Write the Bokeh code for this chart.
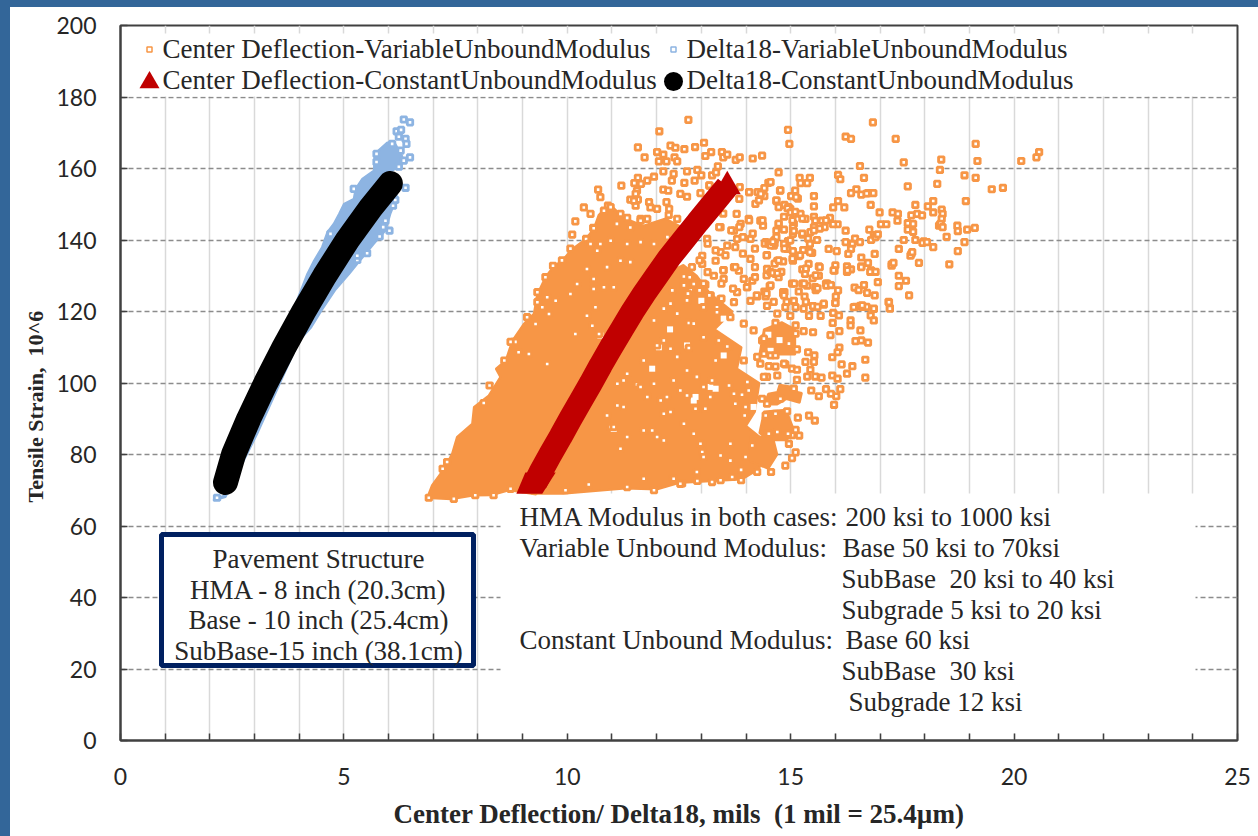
from bokeh.plotting import figure
from bokeh.models import FixedTicker, Label, BoxAnnotation, Title
from bokeh.embed import file_html
from bokeh.resources import INLINE

# ---- values (deflection in mils, strain in 10^-6) ----
x_ticks = [0, 5, 10, 15, 20, 25]
x_minor = [1, 2, 3, 4, 6, 7, 8, 9, 11, 12, 13, 14, 16, 17, 18, 19, 21, 22, 23, 24]
y_ticks = [0, 20, 40, 60, 80, 100, 120, 140, 160, 180, 200]

# Delta18, constant unbound modulus: the curve of the black markers
black_x = [2.35, 2.53, 2.87, 3.25, 3.66, 4.10, 4.57, 5.08, 5.60, 6.04]
black_y = [72.2, 80.0, 90.0, 100.0, 110.0, 120.0, 130.0, 140.0, 149.0, 155.8]

# Center deflection, constant unbound modulus: the curve of the red markers, and the flat-based foot of that band
red_x = [9.28, 9.40, 9.62, 9.85, 10.07, 10.30, 10.53, 10.75, 10.98, 11.22, 11.46, 11.72, 12.00, 12.28, 12.60, 12.92, 13.25, 13.58]
red_y = [72, 75, 80, 85, 90, 95, 100, 105, 110, 115, 120, 125, 130, 135, 140, 145, 150, 155]
red_foot_x = [8.86, 9.44, 9.74, 9.06]
red_foot_y = [69, 69, 75, 75]

# Delta18, variable unbound modulus: outline of the solid mass of overlapping markers
blue_mass = [(2.07,67.1),(2.31,68.5),(2.69,76.4),(3.66,115.6),(3.95,123.1),(4.18,130.5),(4.33,134.2),(4.51,138),(4.63,142.2),
             (4.77,144.5),(4.89,147.3),(5.0,150.1),(5.22,151.5),(5.26,154.3),(5.41,157.1),(5.67,159.4),(5.69,164.1),(5.97,167.3),
             (6.15,166.9),(6.3,163.6),(6.34,161.8),(6.04,158.9),(6.19,152),(6.04,147.3),(5.93,142.6),(5.67,138.9),(5.3,133.3),
             (5.12,130.5),(4.8,125.9),(4.5,120.3),(4.27,115.6),(4.0,111.9),(3.06,85.8),(2.35,68.1)]
# ... and its separate markers
blue_points = [(6.34,173.7),(6.48,172.9),(6.18,170.4),(6.28,170.8),(6.23,168.9),(6.38,168.3),(6.40,166.9),(6.48,163.1),(6.34,162.2),
               (6.23,160.5),(5.73,164.1),(5.73,161.8),(6.38,154.6),(5.22,154.3),(4.70,141.7),(6.02,142.6),(5.93,145.4),(5.52,136.3),
               (5.30,134.4),(6.10,149.6),(6.15,151.2),(5.80,141),(5.88,143.6),(5.30,135.6),(6.08,166.9),(6.27,165),(2.16,67.9)]

# Center deflection, variable unbound modulus: outlines of the solid masses of overlapping markers
orange_mass_left = [(6.86,67.8),(6.97,71.4),(7.24,76),(7.42,80.2),(7.53,84.9),(7.87,88.6),(7.91,93.3),(8.24,96.5),(8.5,101.7),(8.4,104),
                    (8.62,106.3),(8.77,111.9),(9.03,116.6),(9.25,119.4),(9.33,124.9),(9.51,129.6),(9.7,132.8),(9.88,134.2),(10.11,137.5),
                    (10.41,140.3),(10.59,143.1),(10.7,147),(10.95,150),(11.12,148),(11.3,146),(11.7,144),(12.2,146),(12.5,144),
                    (12.8,141),(12.5,137),(9.3,68.8),(8.7,70),(8.3,68.6),(7.9,68.5),(7.4,67.5)]
orange_mass_right = [(9.2,69),(9.9,69),(11.3,70.5),(12.0,70.2),(12.5,72),(13.9,73),(14.3,76),(14.4,84),(14.0,88),(14.2,92),(14.3,100),
                     (13.8,104),(13.9,110),(13.3,115),(13.7,120),(13.2,125),(12.9,130),(12.6,133),(12.1,130),(11.4,120),(10.5,100),(9.6,80)]
orange_clump_a = [(14.3,86),(14.4,92),(14.9,92.5),(15.1,86),(14.9,84),(14.5,84)]
orange_clump_b = [(14.1,78),(14.1,85),(14.6,85),(14.7,80),(14.5,76)]
orange_clump_c = [(14.4,94),(14.5,97),(14.7,97.5),(14.75,99.5),(15.0,99),(15.05,97.8),(15.25,97.2),(15.2,94.5),(14.9,95.5),(14.7,94)]
orange_clump_e = [(14.3,108),(14.4,115),(14.8,117),(15.1,115),(15.1,108)]
# small white gaps left inside the masses: centre x, centre y
gap_x = [13.5, 12.83, 12.61, 13.2, 14.17, 12.68, 12.05, 11.04, 10.74, 14.55, 13.32, 12.87, 12.83, 13.5, 13.9, 13.0, 12.3, 11.9, 14.75, 14.5]
gap_y = [107.7, 95.1, 88.6, 98.9, 93.3, 110.5, 110, 87.2, 113.3, 109, 98.4, 96.1, 85.8, 118, 123, 123, 115, 104, 112, 113.5]
# ... and their separate markers
orange_far_right = [(14.94,170.8),(14.97,166.9),(14.36,163.6),(16.84,172.9),(16.23,168.9),(16.35,168.3),(17.35,168.3),(19.14,166.9),(20.56,164.6),
    (20.50,163.1),(20.16,162.1),(19.18,162.1),(18.37,162.5),(17.53,161.7),(16.55,160.7),(14.73,158.9),(18.34,159.6),(16.06,158.2),(16.11,157),
    (16.64,157.4),(18.89,158.1),(19.14,157.4),(18.28,155.7),(17.62,155),(15.2,157.4),(15.43,157.4),(15.22,155.9),(15.37,155.9),(14.5,156),
    (14.76,153.8),(15.1,153.8),(19.5,154.2),(19.75,154.6),(16.47,154.2),(16.35,153.1),(16.58,152.7),(16.73,153.1),(14.41,154.5),(14.41,152.3),
    (15.01,152.3),(15.16,151.6),(15.52,152.3),(14.68,150.9),(16.06,150.9),(18.92,150.9),(18.19,150.9),(17.79,149.8),(15.52,149.4),(15.95,149.1),
    (16.2,149.1),(16.79,149.8),(18.07,149.4),(18.38,148.5),(14.86,149.8),(14.99,148.7),(15.07,147.3),(16.99,147.7),(17.28,147.7),(17.4,147.3),
    (18.19,147.7),(18.4,147.3),(17.7,146.9),(17.83,147.3),(17.94,146.9),(17.39,145.4),(18.38,145.9),(15.22,147.3),(14.85,146.5),(15.52,146.5),
    (15.88,146.2),(15.7,145.4),(15.55,145.4),(15.33,145.9),(15.07,144.5),(16.05,144.4),(15.95,144.4),(17.02,144.4),(17.14,144.4),(17.62,144.7),
    (17.74,144.5),(18.32,144),(18.73,144),(14.38,144),(15.76,143.6),(15.65,143.2),(15.52,143.6),(14.73,144.4),(14.85,142.9),(14.68,142.6),
    (16.23,142.6),(16.76,142.9),(17.62,142.9),(17.74,142.3),(18.74,142.5),(18.95,142.9),(19.12,143.4),(15.44,142.2),(15.26,141.5),(15.05,141.7),
    (16.86,141.4),(18.49,140.9),(15.39,140.4),(15.59,140),(16.44,140.4),(16.8,140),(17.53,140),(16.23,139.4),(16.55,139.4),(16.38,138.9),
    (18.89,139.4),(17.79,140),(17.98,139.6),(14.94,139.7),(14.85,138.9),(15.43,138.9),(14.64,140),(14.44,139.4),(14.62,138.4),(15.85,137.5),
    (14.92,137.5),(15.28,137.2),(15.05,136.9),(16.03,136.9),(17.42,137.5),(18.19,138),(16.35,137.5),(16.29,136.1),(15.48,136.4),(16.88,136.1),
    (18.74,136.9),(17.7,136.1),(14.47,135.8),(15.18,135.5),(16.58,135.1),(14.7,134.2),(14.83,134),(15.05,134.2),(15.4,133.3),(16.73,133.6),
    (17.87,133.6),(17.26,133.2),(18.55,133.2),(16.0,132.9),(15.63,132.6),(16.58,132.6),(16.26,132.6),(16.35,131.8),(15.98,131.4),(16.26,131.1),
    (16.8,131.4),(15.26,131.8),(15.32,130.5),(14.47,131.9),(14.66,130.5),(14.79,131.1),(15.63,130),(15.49,129.3),(17.42,130),(17.58,128.6),
    (17.42,127.1),(16.95,128.2),(15.03,127.8),(15.26,127.8),(15.37,127.2),(15.82,127.8),(15.55,126.8),(16.43,126.7),(16.64,127.4),(14.53,127.1),
    (16.52,126),(16.06,125.9),(14.41,125.6),(14.83,125.4),(15.18,125.6),(16.71,125.2),(16.88,124.5),(17.65,124.5),(16.01,124.2),(14.44,124.2),
    (15.31,124.2),(15.07,123),(17.19,122.7),(14.62,122.7),(14.91,122.7),(15.34,122.7),(16.0,122.4),(15.74,121.9),(15.52,121.2),(14.47,121.6),
    (16.56,121.6),(17.22,121),(16.86,120.7)]
orange_top = [(12.71,173.6),(12.06,170.4),(11.58,165.9),(11.73,163.1),(12.01,164.6),(12.15,163.9),(12.31,166.4),(12.42,165.8),(12.62,165.4),
    (12.86,166),(13.06,167.2),(13.09,163.5),(13.22,164.6),(13.46,164.6),(13.49,163.1),(13.58,163.9),(13.77,162.4),(13.86,163.1),(14.15,162.8),
    (12.05,162),(12.22,162),(12.4,163.1),(12.46,162),(13.37,160.6),(12.15,159.2),(12.38,158.5),(12.68,159.2),(12.91,159.6),(13.0,158.1),
    (13.24,158.1),(13.33,158.9),(11.94,157.7),(11.58,157.4),(11.5,155.9),(11.21,155.2),(11.79,156.6),(11.65,155.7),(12.34,156.6),(12.62,156),
    (12.85,156.6),(13.18,155.2),(10.69,154.1),(10.74,152),(12.15,154.1),(12.26,153.8),(12.98,153.1),(13.86,154.8),(14.07,153.4),(14.26,153.4),
    (11.56,153.8),(11.53,152.9),(12.53,152.9),(12.68,152.1),(11.41,151.3),(11.58,151.3),(11.83,150.6),(12.22,150.6),(10.91,149.6),(10.37,149.1),
    (10.52,147.3),(10.18,145.2),(10.11,141.5),(10.07,137.6),(10.42,140.3),(10.58,143.4),(9.68,132.8),(9.88,134.3),(9.51,129.6),(9.36,125.4),
    (9.36,122.9),(11.34,146.2),(11.64,145.9),(11.79,145.9),(12.01,148.7),(12.28,148.7),(12.27,147),(12.46,145.9),(13.79,147.3),(14.06,145.9),
    (13.88,144.5),(13.73,142.6),(13.43,143.6),(13.8,140.3),(14.1,140.3),(14.32,145.4),(14.21,150.1),(11.53,149.6),(10.97,149.2),(10.82,148.2),
    (11.19,147.3),(12.24,140.8),(11.94,138.9),(10.74,138.9),(10.48,138.9),(13.58,138.4),(13.43,136.6),(13.13,140.3),(13.02,135.6),(13.02,133.3),
    (13.32,134.2),(13.73,132.4),(14.1,134.7),(13.84,131.4),(13.5,131.6),(13.28,130),(12.61,129.8),(12.83,127.7),(13.09,127.5),(13.5,129.1),
    (13.95,129.1),(14.14,128.6),(14.03,126.8),(13.43,123.5),(13.8,125.4),(13.21,124.5),(14.25,124.2),(14.1,123),(13.73,122.6),(13.35,121.2),(12.76,125.9)]
orange_upper_band = [(13.18,155.3),(13.49,147.4),(13.4,143.6),(13.67,142.7),(13.85,143.6),(14.07,145.5),(14.37,145.5),(13.93,140.8),(14.15,141.8),
    (13.76,138),(13.14,139),(13.32,137.1),(13.54,135.7),(13.93,136.2),(14.2,137.6),(14.42,139),(14.64,139),(14.46,135.7),(14.64,133.4),(14.2,132.4),
    (13.76,132.4),(13.49,131.5),(13.14,131),(12.79,132.4),(12.96,134.3),(12.74,129.6),(13.05,127.8),(13.45,127.8),(13.71,126.4),(14.02,126.8),
    (14.55,127.3),(14.73,129.6),(14.46,130.1),(14.2,129.6),(12.96,125.9),(12.61,127.3),(12.35,125.9),(12.7,125),(13.18,124.5),(13.45,123.6),
    (14.24,124.5),(14.46,125),(14.86,125.4),(15.08,127.8),(15.3,127.8),(15.56,130.1),(15.34,132),(15.65,132.4),(15.96,131.5),(16.27,131.5),
    (16.58,132.4),(16.8,131.5),(15.79,127.8),(15.04,134.8),(15.21,135.7),(14.73,134.3),(15.43,136.6),(14.86,137.6),(14.68,140.8),(14.99,139.9),
    (15.26,141.8),(15.52,142.7),(15.79,145.5),(14.73,144.6),(15.04,145.5),(15.26,146),(14.29,151.1),(13.85,151.5),(14.07,153.4),(14.33,152.9),
    (14.55,156.2),(14.77,153.9),(14.68,151.1),(14.95,149.2),(15.12,152),(14.73,149.2)]
orange_clumped = [(14.93,148.9),(15.0,147.7),(15.05,143.5),(15.07,142.5),(14.5,139),(14.55,138.5),(14.6,139.5),(14.55,131),(14.6,130.8),(14.7,130.7),
    (14.83,125),(14.85,124.5),(15.5,121.5),(15.6,121.3),(15.56,126),(15.6,126.5),(15.8,127.2),(15.9,127.4),(16.6,121.3),(16.7,121.3),(16.45,121.3),
    (16.78,131.1),(16.9,131.1),(17.26,132.8),(17.3,133.6),(17.68,135.6),(17.72,136.6),(17.95,139.2),(18.05,139.4),(18.35,144.5),(18.4,143.6),
    (16.9,140.8),(16.95,141.6),(15.1,147.9),(16.7,153),(16.85,153.1)]
orange_lower_right = [(16.0,122.4),(14.99,118.8),(15.41,118.8),(15.67,118.8),(15.94,116.8),(16.09,114.5),(15.89,113.4),(16.45,111.7),(16.58,111.9),
    (16.73,111.3),(16.67,106.5),(16.09,109.9),(16.05,108.6),(15.93,107.2),(16.14,105.2),(16.26,102.6),(16.38,104.7),(16.67,101.5),(15.93,102.1),
    (16.05,101.2),(16.11,98.3),(16.02,96.3),(15.9,97),(15.79,98.3),(15.63,96.3),(15.46,97.9),(15.97,93.9),(15.41,90.9),(15.54,89.5),(15.16,90.3),
    (15.19,85.3),(15.03,85.4),(14.94,85.8),(15.11,86.9),(14.96,83),(15.11,80.6),(15.03,79),(14.88,76.9),(14.56,75.1),(14.25,75.1),(13.89,75.7),
    (13.89,72.8),(13.69,73.7),(13.43,72.8),(13.24,72.3),(12.91,72.6),(12.57,71.9),(12.36,73.4),(14.49,86),(13.97,92.5),(13.97,90.9),(13.62,110.2),
    (12.72,116.8),(12.72,109.6),(13.26,100.7),(12.88,92.9),(13.02,83),(13.02,80.7),(14.7,86.3),(14.66,91.4),(14.92,92.1),(14.44,90.9),(14.47,94.2),
    (14.36,95.6),(14.77,95.6),(15.07,98.4),(15.14,100.9),(15.37,101.8),(15.55,101.8),(15.69,101.5),(15.33,105.9),(15.52,105.9),(15.44,103.7),
    (15.03,104),(15.14,103.7),(14.88,105.2),(15.53,107.7),(15.39,108.6),(15.14,109.4),(14.96,111),(15.11,113.8),(15.29,114.5),(15.5,114.2),
    (15.11,116.1),(14.36,111.9),(14.4,108.2),(14.55,107.7),(14.66,107.7),(14.66,104.6),(14.51,104.7),(14.32,105.4),(14.47,101.7),(14.03,100.3),
    (13.91,96.7),(13.73,97),(14.06,97.9),(13.62,99.3),(16.34,117.5),(16.34,116.1),(16.56,114.7),(16.79,118.9),(16.86,117.5),(16.86,120.8),
    (16.6,121.7),(16.41,121.2),(17.22,120.8),(17.2,122.6),(15.95,119.6),(16.08,118.9),(14.7,119.4),(14.66,116.8),(14.88,121.2),(15.11,121.2),
    (15.29,120.8),(15.74,122.2)]
orange_mid = [(12.01,110.5),(12.16,111.9),(13.58,110.2),(11.56,99.6),(12.72,109.8),(13.24,100.7),(12.87,92.8),(13.09,92.8),(13.76,94.2),(13.99,93.3),
    (13.97,90.9),(12.61,88.6),(12.83,85.8),(12.98,83),(10.89,90.9),(11.26,93.3),(11.12,93.7),(11.71,86.7),(11.9,86.7),(12.01,84.9),(12.16,83.9),
    (12.31,91.9),(12.16,91.4),(11.34,84.9),(11.19,81.6),(10.97,87.7),(11.04,87.7),(11.64,98.9),(11.79,96.1),(11.94,99.8),(12.23,96.1),(12.09,95.1),
    (13.2,96.1),(13.05,98.9),(12.9,101.7),(12.68,103.5),(12.46,107.3),(12.31,109.6),(11.71,106.3),(11.34,102.6),(11.26,100.7),(11.12,99.8),(12.38,100.7),
    (12.53,97.9),(12.68,96.5),(13.32,106.3),(13.39,111.9),(13.05,112.8),(12.83,116.6),(12.46,119.4),(12.16,120.8),(11.94,117.5),(12.31,122.2),
    (12.68,123.1),(13.05,121.2),(13.35,119.8),(13.65,118.4),(13.95,116.6),(14.17,114.7),(14.4,112.4),(13.95,106.3),(14.25,107.3),(14.4,101.7),
    (14.7,102.1),(14.85,105.4),(14.51,85.8),(14.14,82.5),(13.99,79.3),(13.65,78.3),(13.65,83),(13.43,79.7),(13.05,79.3),(12.9,75.1),(12.53,71.8),
    (12.38,73.2),(11.71,73.2),(11.94,70),(11.34,70.9),(10.48,71.6),(9.96,70),(8.73,70.4),(8.35,68.6),(7.94,68.6),(7.46,67.6),(6.9,67.9)]
orange_left = [(9.1,118.4),(8.8,111.5),(8.59,106.3),(10.59,143.3),(11.41,133.8),(9.33,125.4),(9.33,122.6),(8.84,111.5),(8.73,111.5),(8.26,99.3),
    (8.13,94.4),(7.31,77.9),(7.21,76),(9.55,124),(9.74,123),(9.44,121.2),(9.59,119.3),(9.29,116.5),(10.44,118.8),(10.56,116),(10.18,113.7),(10.71,113.7),
    (10.63,121.2),(10.07,124.9),(10.22,127.7),(10.59,126.3),(10.82,126.8),(11.04,126.8),(10.89,132.4),(10.59,129.1),(10.44,131.9),(11.19,134.2),
    (11.64,139.4),(11.34,138.9),(10.97,139.8),(10.52,138.9),(10.67,137),(11.11,144.5),(11.41,143.5),(11.64,145.4),(11.86,149.1),(11.49,151),
    (9.55,105.3),(9.14,108.1),(8.91,108.6)]

legend_labels = ["Center Deflection-VariableUnboundModulus", "Delta18-VariableUnboundModulus",
                 "Center Deflection-ConstantUnboundModulus", "Delta18-ConstantUnboundModulus"]
structure_lines = ["Pavement Structure", "HMA - 8 inch (20.3cm)", "Base - 10 inch (25.4cm)", "SubBase-15 inch (38.1cm)"]
note_left = ["HMA Modulus in both cases:", "Variable Unbound Modulus:", "Constant Unbound Modulus:"]
note_right = ["200 ksi to 1000 ksi", "Base 50 ksi to 70ksi", "SubBase\u00a0 20 ksi to 40 ksi", "Subgrade 5 ksi to 20 ksi",
              "Base 60 ksi", "SubBase\u00a0 30 ksi", "Subgrade 12 ksi"]

ORANGE, BLUE, RED, NAVY, BAND = "#F79646", "#8DB4E2", "#C00000", "#002060", "#336699"
SERIF, SANS = "Liberation Serif", "Lato"
INK = "#262626"
# page layout: bands are 10px on the left and 7px on top; frame edges in page pixels
BAND_L, BAND_T = 10, 7
PAGE_W, PAGE_H = 1258, 836
F_L, F_R, F_T, F_B = 120, 1237, 25, 740

# the host's measured size includes its borders, so the right and bottom margins carry them too
p = figure(width=PAGE_W - BAND_L, height=PAGE_H - BAND_T, x_range=(0, 25), y_range=(0, 200), output_backend="svg", toolbar_location=None,
           min_border_left=F_L - BAND_L, min_border_right=PAGE_W - F_R + BAND_L, min_border_top=F_T - BAND_T,
           min_border_bottom=PAGE_H - F_B + BAND_T,
           background_fill_color="white", border_fill_color="white",
           styles={"position": "absolute", "left": "0px", "top": "0px", "box-sizing": "content-box",
                   "border-left": f"{BAND_L}px solid {BAND}", "border-top": f"{BAND_T}px solid {BAND}"})
dx = lambda px: (px - F_L) * 25 / (F_R - F_L)
dy = lambda py: (F_B - py) * 200 / (F_B - F_T)

p.outline_line_color = "#404040"
p.outline_line_width = 2
p.xaxis.ticker = FixedTicker(ticks=x_ticks, minor_ticks=x_minor)
p.yaxis.ticker = FixedTicker(ticks=y_ticks)
for ax in (p.xaxis[0], p.yaxis[0]):
    ax.axis_line_color = "#404040"
    ax.axis_line_width = 2
    ax.major_tick_line_color = "#404040"
    ax.minor_tick_line_color = "#404040"
    ax.major_tick_line_width = 1.5
    ax.minor_tick_line_width = 1.5
    ax.major_tick_in, ax.major_tick_out, ax.minor_tick_in, ax.minor_tick_out = 7, 0, 7, 0
    ax.major_label_text_font = SANS
    ax.major_label_text_font_size = "23px"
    ax.major_label_text_color = INK
    ax.axis_label_text_font = SERIF
    ax.axis_label_text_font_style = "bold"
    ax.axis_label_text_color = INK
p.yaxis.minor_tick_line_color = None
p.xaxis.major_label_standoff = 27
p.yaxis.major_label_standoff = 24
p.xaxis.axis_label = "Center Deflection/ Delta18, mils\u00a0 (1 mil = 25.4µm)"
p.xaxis.axis_label_text_font_size = "27px"
p.xaxis.axis_label_standoff = 11
# y-axis title: it sits below the middle of the axis in the reference
p.add_layout(Title(text="Tensile Strain,\u00a0 10^6", text_font=SERIF, text_font_size="22px", text_font_style="bold", text_color=INK,
                   align="left", offset=238, standoff=12), "left")

p.xgrid.grid_line_color = "#D9D9D9"
p.xgrid.grid_line_width = 1.5
p.xgrid.minor_grid_line_color = "#D9D9D9"
p.xgrid.minor_grid_line_width = 1.5
p.ygrid.grid_line_color = "#8C8C8C"
p.ygrid.grid_line_width = 1.5
p.ygrid.grid_line_dash = "5 3"

# white panels that hide the grid behind the legend and the notes
for box in [(dx(122), dx(1235), dy(33), dy(96)), (dx(500), dx(1195), dy(493), dy(733))]:
    p.add_layout(BoxAnnotation(left=box[0], right=box[1], top=box[2], bottom=box[3], fill_color="white", fill_alpha=1,
                               line_color=None, level="underlay"))
p.add_layout(BoxAnnotation(left=dx(161), right=dx(473), top=dy(534), bottom=dy(665), fill_color="white", fill_alpha=1,
                           line_color=NAVY, line_alpha=1, line_width=5, level="underlay"))

def pts(*groups):
    merged = [q for g in groups for q in g]
    return [q[0] for q in merged], [q[1] for q in merged]

for mass in (orange_mass_left, orange_mass_right, orange_clump_a, orange_clump_b, orange_clump_c, orange_clump_e):
    mx, my = pts(mass)
    p.patch(mx, my, fill_color=ORANGE, line_color=ORANGE, line_width=2)
p.scatter(gap_x, gap_y, marker="square", size=6, fill_color="white", line_color=None)
ox, oy = pts(orange_far_right, orange_top, orange_upper_band, orange_clumped, orange_lower_right, orange_mid, orange_left)
p.scatter(ox, oy, marker="square", size=5.4, fill_color="white", line_color=ORANGE, line_width=2.8)

p.line(red_x, red_y, line_color=RED, line_width=24)
p.patch(red_foot_x, red_foot_y, fill_color=RED, line_color=None)
p.scatter(red_x[-1:], red_y[-1:], marker="triangle", size=27, fill_color=RED, line_color=None)

mx, my = pts(blue_mass)
p.patch(mx, my, fill_color=BLUE, line_color=BLUE, line_width=2)
bx, by = pts(blue_points)
p.scatter(bx, by, marker="square", size=5.4, fill_color="white", line_color=BLUE, line_width=2.8)
p.line(black_x, black_y, line_color="black", line_width=25, line_cap="round", line_join="round")

# legend
p.scatter([dx(149)], [dy(49)], marker="square", size=5, fill_color="white", line_color=ORANGE, line_width=1.5)
p.scatter([dx(673)], [dy(49)], marker="square", size=5, fill_color="white", line_color=BLUE, line_width=1.5)
p.scatter([dx(149)], [dy(82)], marker="triangle", size=20, fill_color=RED, line_color=None)
p.scatter([dx(673)], [dy(81)], marker="circle", size=19, fill_color="black", line_color=None)

def note(px, py, text, size="27px", align="left"):
    p.add_layout(Label(x=dx(px), y=dy(py - 1.5), text=text, text_font=SERIF, text_font_size=size, text_color=INK,
                       text_baseline="middle", text_align=align))

note(162, 50, legend_labels[0])
note(686, 50, legend_labels[1])
note(162, 81, legend_labels[2])
note(686, 81, legend_labels[3])
for yy, line in zip([560, 591, 621, 652], structure_lines):
    note(318, yy, line, align="center")
for yy, line in zip([518, 549, 641], note_left):
    note(519, yy, line)
for xx, yy, line in zip([845, 842, 841, 841, 845, 841, 848], [518, 549, 580, 611, 641, 672, 703], note_right):
    note(xx, yy, line)

open("out.html", "w").write(file_html(p, INLINE))
